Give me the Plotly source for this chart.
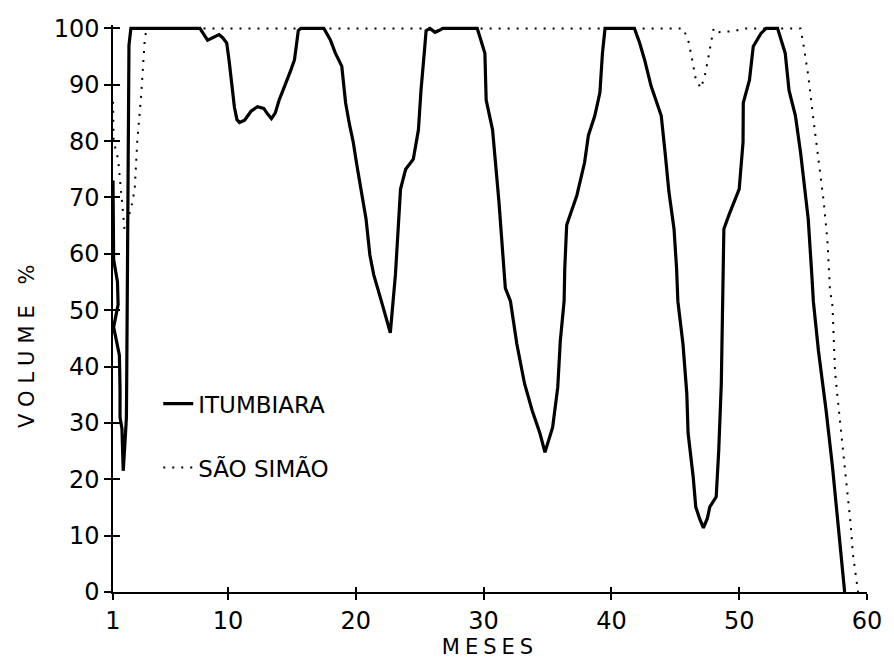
import plotly.graph_objects as go

# ---- data (months, volume %) ----
itumbiara_m = [1.0, 1.0, 1.03, 1.05, 1.35, 1.4, 1.05, 1.3, 1.5, 1.55, 1.55, 1.7, 1.8, 1.95, 2.05, 2.08, 2.1, 2.12,
               2.15, 2.18, 2.2, 2.25, 2.4, 3.0, 7.8, 8.4, 8.8, 9.3, 9.6, 9.9, 10.1, 10.3, 10.5, 10.7, 10.9, 11.3,
               11.8, 12.3, 12.8, 13.1, 13.4, 13.7, 14.0, 14.3, 14.6, 14.9, 15.2, 15.5, 15.7, 17.5, 18.0, 18.4,
               18.9, 19.2, 19.5, 19.8, 20.1, 20.4, 20.8, 21.1, 21.4, 22.0, 22.4, 22.7, 23.1, 23.3, 23.5, 23.9,
               24.5, 24.9, 25.1, 25.4, 25.5, 25.8, 26.2, 26.5, 26.8, 29.5, 29.8, 30.1, 30.2, 30.7, 31.2, 31.5,
               31.7, 32.1, 32.6, 33.2, 33.8, 34.4, 34.8, 35.4, 35.8, 36.0, 36.3, 36.35, 36.5, 37.3, 37.9, 38.2,
               38.7, 39.1, 39.3, 39.5, 41.8, 42.2, 42.6, 43.1, 43.9, 44.2, 44.5, 44.9, 45.1, 45.2, 45.6, 45.9,
               46.0, 46.4, 46.6, 46.9, 47.2, 47.5, 47.7, 48.2, 48.4, 48.6, 48.7, 48.72, 48.8, 49.2, 50.0, 50.3,
               50.32, 50.8, 51.1, 51.7, 52.1, 53.0, 53.6, 53.9, 54.4, 54.8, 55.4, 55.7, 55.8, 56.2, 56.8, 57.3,
               57.8, 58.2, 58.25]
itumbiara_v = [73, 69, 62, 59, 55, 51, 47, 44, 42, 36, 31, 29, 21.5, 27, 31, 40, 50, 60,
               69, 78, 89, 97, 100, 100, 100, 97.9, 98.3, 98.9, 98.3, 97.4, 94, 89.8, 86, 83.8, 83.3, 83.7,
               85.3, 86.1, 85.8, 84.8, 84, 85, 87.3, 89, 90.6, 92.5, 94.4, 99.6, 100, 100, 98, 95.6,
               93.3, 86.8, 83, 79.8, 75.5, 71.5, 66.2, 59.8, 56.3, 51.6, 48.6, 46, 56.3, 63.4, 71.5, 75,
               76.8, 82, 89, 96.8, 99.6, 100, 99.3, 99.6, 100, 100, 98, 95.6, 87.3, 82, 69.2, 60.4,
               53.9, 51.6, 44, 37, 32.2, 28.2, 24.8, 29.2, 36.3, 44.5, 51.6, 57.4, 65.1, 70.4, 76.2, 81,
               84.5, 88.6, 95.6, 100, 100, 97.5, 94.4, 89.8, 84.5, 78, 71, 64.4, 57.4, 51.6, 44, 35.2,
               28.2, 20.4, 15.1, 13, 11.4, 13, 15.1, 16.9, 25.2, 37, 48.6, 53.3, 64.4, 66.9, 71.5, 79.8,
               86.8, 90.8, 96.8, 99.1, 100, 100, 95.6, 89, 84.5, 78, 66.2, 55.6, 51.6, 42.8, 32.2, 22.2,
               10.6, 1.8, 0]

saosimao_m = [1.0, 1.02, 1.05, 1.4, 1.7, 1.9, 2.1, 2.5, 2.7, 2.9, 3.2, 3.5, 3.7, 26.0, 26.3, 26.6, 45.6, 46.0,
              46.3, 46.6, 47.0, 47.3, 47.6, 47.8, 48.0, 48.3, 49.5, 50.5, 54.8, 55.0, 55.4, 55.8, 56.2, 56.6,
              56.9, 57.1, 57.3, 57.5, 57.9, 58.3, 58.7, 58.9, 59.2, 59.3]
saosimao_v = [87, 83, 80, 76.8, 69.2, 64.4, 65.5, 69, 71.5, 80, 88, 98.6, 100, 100, 99.5, 100, 100, 98,
              94.7, 91, 89.4, 91.5, 95, 97.5, 100, 99.3, 99.5, 100, 100, 97.5, 91.7, 84, 76.6, 69.5,
              62.5, 53.7, 50.7, 39, 30, 21.3, 12.5, 6.7, 2, 0]

x_ticks = [1, 10, 20, 30, 40, 50, 60]
x_tick_text = ["1", "10", "20", "30", "40", "50", "60"]
y_ticks = [0, 10, 20, 30, 40, 50, 60, 70, 80, 90, 100]

FONT = "DejaVu Sans"

fig = go.Figure()
fig.add_trace(go.Scatter(x=itumbiara_m, y=itumbiara_v, mode="lines", name="ITUMBIARA",
                         legendgroup="a", line=dict(color="black", width=3.2)))
fig.add_trace(go.Scatter(x=saosimao_m, y=saosimao_v, mode="lines", name="SÃO SIMÃO",
                         legendgroup="b", line=dict(color="black", width=2, dash="2px,7px")))

axis_common = dict(showgrid=False, zeroline=False, showline=True, linecolor="black", linewidth=1.5,
                   tickcolor="black", tickwidth=1.5)

fig.update_layout(
    width=894, height=663,
    margin=dict(l=113, r=22, t=25, b=70),
    paper_bgcolor="white", plot_bgcolor="white",
    font=dict(family=FONT, color="black", size=24),
    showlegend=True,
    legend=dict(x=0.06, y=0.37, xanchor="left", yanchor="top", bgcolor="rgba(0,0,0,0)",
                font=dict(size=23, family=FONT), itemwidth=30, tracegroupgap=31,
                traceorder="grouped"),
    xaxis=dict(range=[1, 60], tickvals=x_ticks, ticktext=x_tick_text, ticks="outside", ticklen=6,
               tickfont=dict(size=24),
               title=dict(text='<span style="letter-spacing:5px">MESES</span>', font=dict(size=21),
                          standoff=2), **axis_common),
    yaxis=dict(range=[0, 100.6], tickvals=y_ticks, ticks="outside", ticklen=7, ticklabelstandoff=0,
               tickfont=dict(size=24), **axis_common),
    xaxis2=dict(range=[1, 60], overlaying="x", tickvals=x_ticks, ticks="inside", ticklen=5,
                showticklabels=False, showline=False, showgrid=False, zeroline=False,
                tickcolor="black", tickwidth=1.5, side="bottom"),
    yaxis2=dict(range=[0, 100.6], overlaying="y", tickvals=y_ticks, ticks="inside", ticklen=7,
                showticklabels=False, showline=False, showgrid=False, zeroline=False,
                tickcolor="black", tickwidth=1.5, side="left"),
    annotations=[dict(text='<span style="letter-spacing:7px">VOLUME %</span>', textangle=-90,
                      xref="paper", yref="paper", x=-0.1146, y=0.44, xanchor="center",
                      yanchor="middle", showarrow=False, font=dict(size=21, family=FONT))],
)
# invisible trace to activate the overlay axes
fig.add_trace(go.Scatter(x=[1, 60], y=[0, 100], xaxis="x2", yaxis="y2", mode="markers",
                         marker=dict(opacity=0), showlegend=False, hoverinfo="skip"))

fig.write_html("out.html")
